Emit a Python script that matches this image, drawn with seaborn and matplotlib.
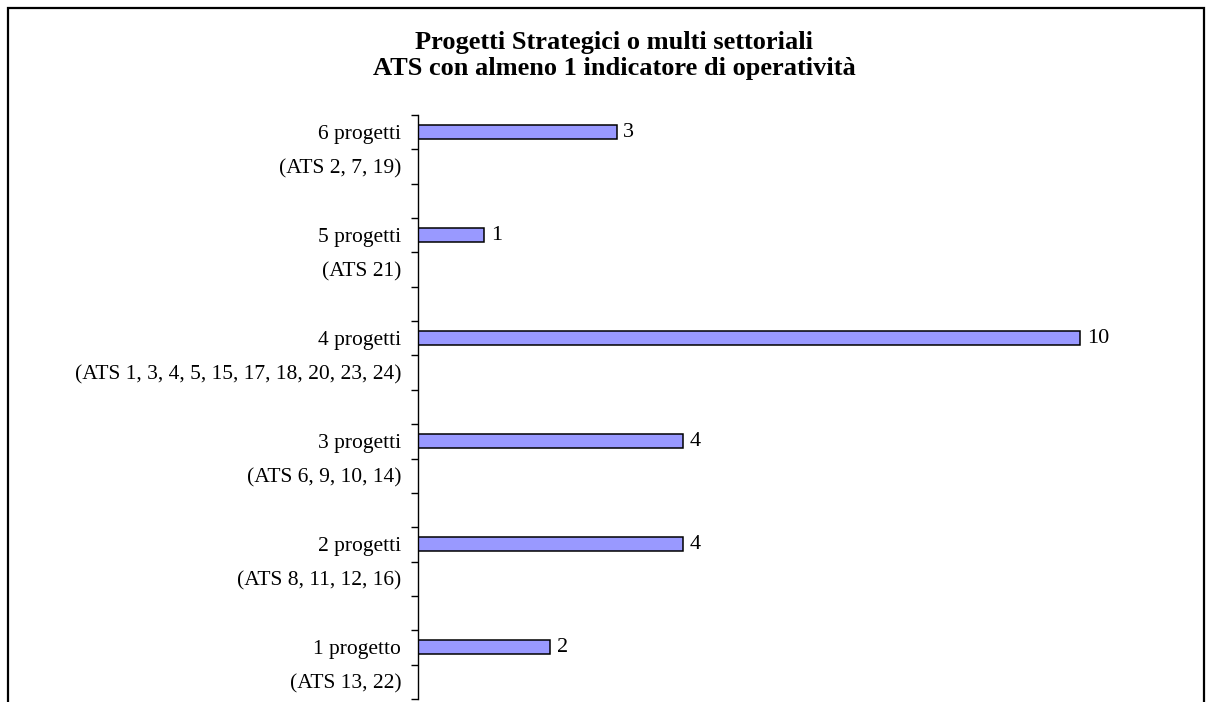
import matplotlib
matplotlib.use("Agg")
import matplotlib.pyplot as plt
import numpy as np
import pandas as pd
import seaborn as sns
from matplotlib.patches import Rectangle

# data
groups = ["6 progetti", "5 progetti", "4 progetti", "3 progetti", "2 progetti", "1 progetto"]
ats_labels = ["(ATS 2, 7, 19)", "(ATS 21)", "(ATS 1, 3, 4, 5, 15, 17, 18, 20, 23, 24)",
              "(ATS 6, 9, 10, 14)", "(ATS 8, 11, 12, 16)", "(ATS 13, 22)"]
counts = [3, 1, 10, 4, 4, 2]

# build the slot table: bar row, ATS row, blank row
labels, values = [], []
for i, (g, a, c) in enumerate(zip(groups, ats_labels, counts)):
    labels += [g, a]
    values += [c, np.nan]
    if i < len(groups) - 1:
        labels.append("")
        values.append(np.nan)
keys = [f"slot{i}" for i in range(len(labels))]
df = pd.DataFrame({"key": keys, "label": labels, "value": values})

sns.set_style("white")
plt.rcParams["font.family"] = ["Liberation Serif", "DejaVu Serif"]
plt.rcParams["text.color"] = "black"
plt.rcParams["ytick.color"] = "black"

fig = plt.figure(figsize=(12.12, 7.02), dpi=100)
ax = fig.add_axes([0.3449, 0.0043, 0.6287, 0.8319])

sns.barplot(data=df, y="key", x="value", orient="h", order=keys,
            color="#9999ff", edgecolor="black", linewidth=1.1,
            width=0.41, saturation=1, ax=ax)

n = len(keys)
ax.set_xlim(0, 11.51)
ax.set_ylim(n - 0.5, -0.5)
ax.set_yticks(range(n))
ax.set_yticklabels(labels, fontsize=15.5)
ax.tick_params(axis="y", which="major", left=False, length=0, pad=12, labelcolor="black")
ax.set_yticks(np.arange(-0.5, n, 1.0), minor=True)
ax.tick_params(axis="y", which="minor", left=True, length=5, width=1, direction="out", color="black")
ax.set_xticks([])
ax.set_xlabel("")
ax.set_ylabel("")
for s in ["top", "right", "bottom"]:
    ax.spines[s].set_visible(False)
ax.spines["left"].set_linewidth(1)
ax.spines["left"].set_color("black")

for i, v in enumerate(values):
    if not np.isnan(v):
        ax.text(v + 0.1, i, f"{int(v)}", va="center", ha="left", fontsize=16, color="black")

fig.text(0.507, 0.939, "Progetti Strategici o multi settoriali", ha="center", va="center",
         fontsize=19, fontweight="bold")
fig.text(0.507, 0.902, "ATS con almeno 1 indicatore di operatività", ha="center", va="center",
         fontsize=19, fontweight="bold")

# outer chart frame
fig.patches.append(Rectangle((8 / 1212, -0.1), 1196 / 1212, 1.1 - 8 / 702, transform=fig.transFigure,
                             fill=False, edgecolor="black", linewidth=1.6))

fig.savefig("out.png", dpi=100)
